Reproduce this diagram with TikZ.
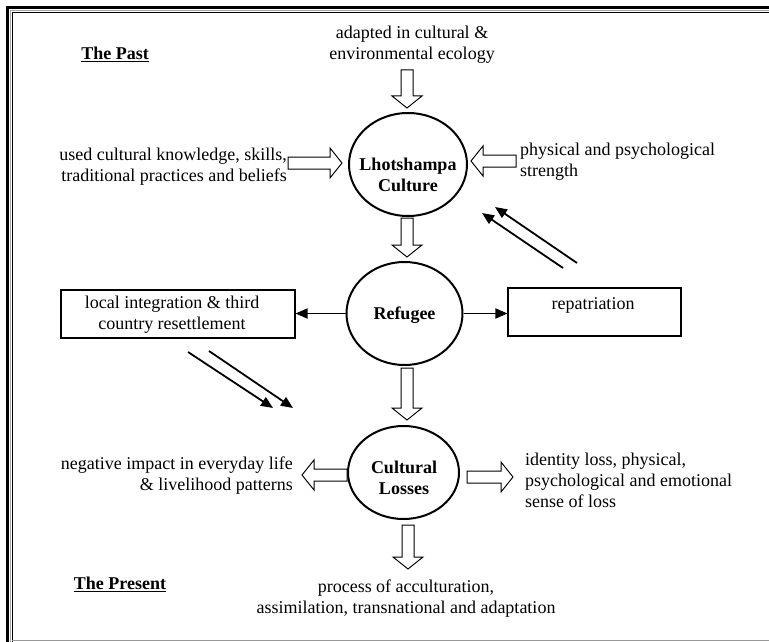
\documentclass[tikz,border=0pt]{standalone}
\usepackage{fontspec}
\setmainfont{Liberation Serif}
\usetikzlibrary{calc,arrows.meta,shapes.geometric}
\newcommand{\blockarr}[2]{%
  \path let \p1=($(#2)-(#1)$) in \pgfextra{%
    \pgfmathsetmacro\barlen{veclen(\x1,\y1)}%
    \pgfmathsetmacro\barang{atan2(\y1,\x1)}%
    \global\let\barlen\barlen \global\let\barang\barang};
  \draw[blockarrow, shift={(#1)}, rotate=\barang]
    (0,-6) -- (\barlen-12,-6) -- (\barlen-12,-15) -- (\barlen,0) --
    (\barlen-12,15) -- (\barlen-12,6) -- (0,6) -- cycle;}
\tikzset{
  txt/.style={font=\fontsize{18}{21}\selectfont, inner sep=0pt},
  bld/.style={font=\fontsize{18}{21}\selectfont\bfseries, inner sep=0pt, align=center},
  ell/.style={draw, ellipse, line width=2pt, inner sep=0pt},
  boxst/.style={draw, rectangle, line width=1.1pt, inner sep=0pt},
  blockarrow/.style={draw, fill=white, line width=1pt, line join=miter},
  thinarr/.style={line width=1.8pt, -{Triangle[length=12pt,width=10pt]}}
}
\begin{document}
\begin{tikzpicture}[x=1pt,y=-1pt]
\useasboundingbox (0,0) rectangle (769,642);
% frame
\draw[line width=3.4pt] (7.5,642) -- (7.5,7.5) -- (769,7.5);
\draw[line width=1pt, gray!70] (10.6,642) -- (10.6,10.6) -- (769,10.6);
\draw[line width=1pt] (12.3,642) -- (12.3,12.3) -- (769,12.3);
\draw[line width=1.2pt, gray!80] (12,640.6) -- (769,640.6);

% ellipses
\node[ell, minimum width=118, minimum height=103] (L) at (408,164.5) {};
\node[bld] (Lt) at (408,175) {Lhotshampa\\Culture};
\node[ell, minimum width=116, minimum height=103] (R) at (404.5,313.5) {};
\node[bld] (Rt) at (404.5,315) {Refugee};
\node[ell, minimum width=111, minimum height=93] (C) at (403.5,472.5) {};
\node[bld] (Ct) at (404,478) {Cultural\\Losses};

% labels
\node[bld] (past) at (115,54) {\underline{The Past}};
\node[bld] (present) at (120,584) {\underline{The Present}};
\node[txt, align=center] (adapt) at (412,45) {adapted in cultural \&\\environmental ecology};
\node[txt, align=right, anchor=east] (used) at (287,167) {used cultural knowledge, skills,\\traditional practices and beliefs};
\node[txt, align=left, anchor=west] (phys) at (520,162) {physical and psychological\\strength};
\node[txt, align=right, anchor=east] (neg) at (293,476) {negative impact in everyday life\\\& livelihood patterns};
\node[txt, align=left, anchor=west] (ident) at (525,480) {identity loss, physical,\\psychological and emotional\\sense of loss};
\node[txt, align=center] (proc) at (406,599) {process of acculturation,\\assimilation, transnational and adaptation};

% boxes
\node[boxst, minimum width=234, minimum height=48] (loc) at (178,314) {};
\node[txt, align=center] (loct) at (172,315) {local integration \& third\\country resettlement};
\node[boxst, minimum width=173, minimum height=48] (rep) at (594.5,312) {};
\node[txt] (rept) at (593,305) {repatriation};

% block arrow end points
\coordinate (a1s) at (407,70);   \coordinate (a1e) at (407,108);
\coordinate (a2s) at (407,218);  \coordinate (a2e) at (407,257);
\coordinate (a3s) at (407,368);  \coordinate (a3e) at (407,420);
\coordinate (a4s) at (408,525);  \coordinate (a4e) at (408,569);
\coordinate (a5s) at (288,163);  \coordinate (a5e) at (342,163);
\coordinate (a6s) at (516,161);  \coordinate (a6e) at (471,161);
\coordinate (a7s) at (347,475);  \coordinate (a7e) at (302,475);
\coordinate (a8s) at (467,477);  \coordinate (a8e) at (513,477);
\blockarr{a1s}{a1e}
\blockarr{a2s}{a2e}
\blockarr{a3s}{a3e}
\blockarr{a4s}{a4e}
\blockarr{a5s}{a5e}
\blockarr{a6s}{a6e}
\blockarr{a7s}{a7e}
\blockarr{a8s}{a8e}

% thin arrows
\draw[thinarr] (R.west) -- (R.west -| loc.east);
\draw[thinarr] (R.east) -- (R.east -| rep.west);
\coordinate (u1s) at (563,268); \coordinate (u1e) at (482,213);
\coordinate (u2s) at (577,263); \coordinate (u2e) at (495,207);
\coordinate (d1s) at (188,352); \coordinate (d1e) at (273,408);
\coordinate (d2s) at (209,351); \coordinate (d2e) at (293,408);
\draw[thinarr] (u1s) -- (u1e);
\draw[thinarr] (u2s) -- (u2e);
\draw[thinarr] (d1s) -- (d1e);
\draw[thinarr] (d2s) -- (d2e);
\end{tikzpicture}
\end{document}
